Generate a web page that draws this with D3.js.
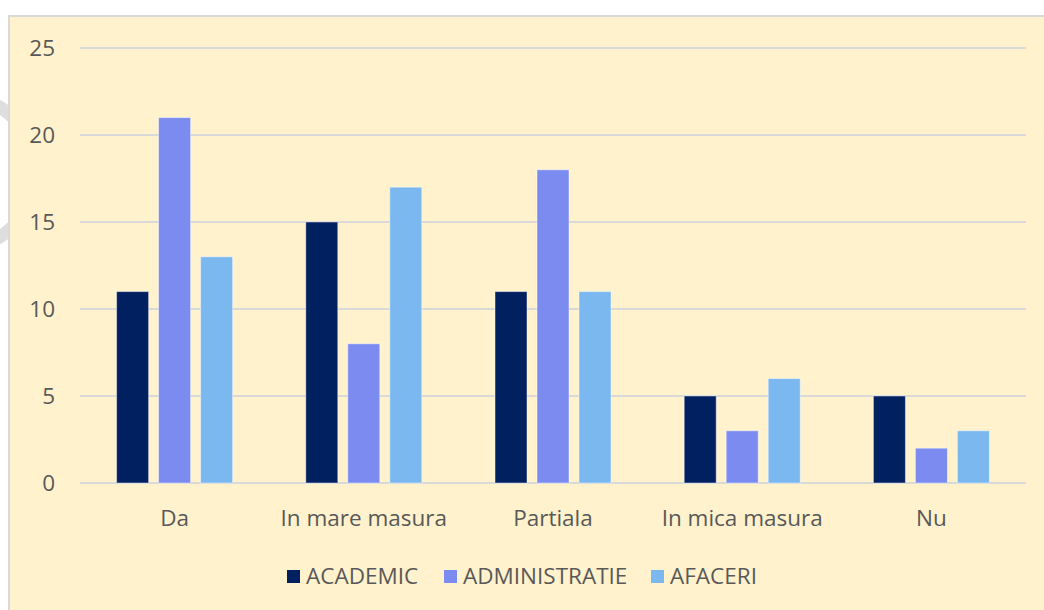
<!DOCTYPE html>
<html>
<head>
<meta charset="utf-8">
<script src="https://cdn.jsdelivr.net/npm/d3@7"></script>
<style>
  body { margin: 0; background: #ffffff; }
  svg { display: block; }
</style>
</head>
<body>
<div id="chart"></div>
<script>
// Chart data
var categories = ['Da', 'In mare masura', 'Partiala', 'In mica masura', 'Nu'];
var seriesNames = ['ACADEMIC', 'ADMINISTRATIE', 'AFACERI'];
var academic = [11, 15, 11, 5, 5];
var administratie = [21, 8, 18, 3, 2];
var afaceri = [13, 17, 11, 6, 3];
var yTicks = [0, 5, 10, 15, 20, 25];

var seriesValues = [academic, administratie, afaceri];
var colors = ['#002060', '#7B8BEF', '#7AB8EF'];

const width = 1044;
const height = 610;
const textColor = '#595959';
const font = '"Open Sans", "Noto Sans", sans-serif';
const fontSize = '22.5px';

const svg = d3.select('#chart').append('svg')
    .attr('width', width)
    .attr('height', height);

// faint grey shape at the left edge (outside the chart frame)
var clip = svg.append('clipPath').attr('id', 'leftclip');
clip.append('rect').attr('x', 0).attr('y', 0).attr('width', 9).attr('height', height);
svg.append('circle')
    .attr('cx', -40)
    .attr('cy', 172)
    .attr('r', 76)
    .attr('fill', 'none')
    .attr('stroke', '#dedede')
    .attr('stroke-width', 13)
    .attr('clip-path', 'url(#leftclip)');

// chart frame
svg.append('rect')
    .attr('x', 9)
    .attr('y', 16)
    .attr('width', width + 20)
    .attr('height', height + 20)
    .attr('fill', '#FFF2CC')
    .attr('stroke', '#D9D9D9')
    .attr('stroke-width', 2);

// scales
var x0 = d3.scaleBand()
    .domain(categories)
    .range([80, 1026])
    .paddingInner(0)
    .paddingOuter(0);

var x1 = d3.scaleBand()
    .domain(seriesNames)
    .range([-58, 58])
    .paddingInner(10 / 42)
    .paddingOuter(0);

var y = d3.scaleLinear()
    .domain([0, 25])
    .range([483, 48]);

// gridlines
svg.append('g')
    .selectAll('line')
    .data(yTicks)
    .enter()
    .append('line')
    .attr('x1', 80)
    .attr('x2', 1026)
    .attr('y1', d => y(d))
    .attr('y2', d => y(d))
    .attr('stroke', '#D9D9D9')
    .attr('stroke-width', 2);

// y tick labels
svg.append('g')
    .selectAll('text')
    .data(yTicks)
    .enter()
    .append('text')
    .attr('x', 55)
    .attr('y', d => y(d) + 8)
    .attr('text-anchor', 'end')
    .attr('fill', textColor)
    .style('font-family', font)
    .style('font-size', fontSize)
    .text(d => d);

// bars
var groups = svg.append('g')
    .selectAll('g')
    .data(categories)
    .enter()
    .append('g')
    .attr('transform', d => 'translate(' + (x0(d) + x0.bandwidth() / 2) + ',0)');

groups.selectAll('rect')
    .data((d, i) => seriesNames.map((s, j) => ({ series: s, value: seriesValues[j][i], color: colors[j] })))
    .enter()
    .append('rect')
    .attr('x', d => x1(d.series))
    .attr('y', d => y(d.value))
    .attr('width', x1.bandwidth())
    .attr('height', d => y(0) - y(d.value))
    .attr('fill', d => d.color)
    .attr('stroke', 'rgba(255,255,255,0.45)')
    .attr('stroke-width', 1);

// category labels
svg.append('g')
    .selectAll('text')
    .data(categories)
    .enter()
    .append('text')
    .attr('x', d => x0(d) + x0.bandwidth() / 2)
    .attr('y', 526)
    .attr('text-anchor', 'middle')
    .attr('fill', textColor)
    .style('font-family', font)
    .style('font-size', fontSize)
    .text(d => d);

// legend
var legendX = [287, 444, 651];
var legend = svg.append('g')
    .selectAll('g')
    .data(seriesNames)
    .enter()
    .append('g')
    .attr('transform', (d, i) => 'translate(' + legendX[i] + ',570)');

legend.append('rect')
    .attr('width', 13)
    .attr('height', 13)
    .attr('fill', (d, i) => colors[i]);

legend.append('text')
    .attr('x', 19)
    .attr('y', 14)
    .attr('fill', textColor)
    .style('font-family', font)
    .style('font-size', fontSize)
    .text(d => d);
</script>
</body>
</html>
